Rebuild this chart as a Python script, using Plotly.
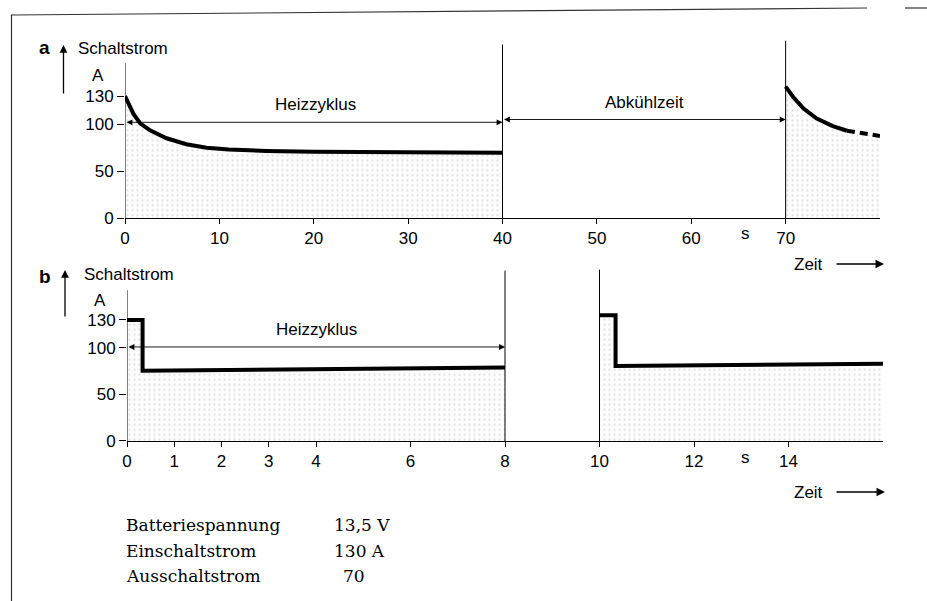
import plotly.graph_objects as go

W, H = 927, 601

# ---------------- data: panel a (Heizzyklus / Abkühlzeit, 0..80 s) ----------------
a_xticks = [0, 10, 20, 30, 40, 50, 60, 70]
a_yticks = [0, 50, 100, 130]
a_t1 = [0, 0.35, 0.9, 1.6, 2.65, 4.4, 6.5, 8.65, 11, 15, 20, 30, 40]
a_i1 = [130, 122, 111, 101, 93.5, 85, 78.7, 75, 73, 71.5, 70.5, 70, 69.5]
a_t2 = [70, 70.8, 71.9, 73.3, 75, 76.5]
a_i2 = [140, 129, 116.7, 106, 98, 93]
a_t2_dash = [76.5, 78.2, 80]
a_i2_dash = [93, 90, 87.5]
a_marks = [40, 70]
a_marks_top = [185, 189]

# ---------------- data: panel b (0..16 s) ----------------
b_xticks = [0, 1, 2, 3, 4, 6, 8, 10, 12, 14]
b_yticks = [0, 50, 100, 130]
b_t1 = [0, 0.33, 0.33, 8]
b_i1 = [130, 130, 75.5, 79]
b_t2 = [10, 10.34, 10.34, 16]
b_i2 = [135, 135, 80.5, 83]
b_marks = [8, 10]
b_marks_top = [183, 184]

table_labels = ["Batteriespannung", "Einschaltstrom", "Ausschaltstrom"]
table_values = ["13,5 V", "130 A", "70"]

SANS = "Liberation Sans, Arial, sans-serif"
SERIF = "DejaVu Serif, Liberation Serif, serif"
FS = 17


def px(x):
    return x / W


def py(y):
    return 1 - y / H


pattern = dict(shape=".", size=5, solidity=0.16, fgcolor="#c8c8c8", bgcolor="#fdfdfd")

fig = go.Figure()


def fill_trace(t, v, xa, ya):
    fig.add_trace(go.Scatter(x=t, y=v, xaxis=xa, yaxis=ya, mode="lines",
                             line=dict(width=0, color="rgba(0,0,0,0)"),
                             fill="tozeroy", fillpattern=pattern,
                             hoverinfo="skip"))


def line_trace(t, v, xa, ya, dash="solid"):
    fig.add_trace(go.Scatter(x=t, y=v, xaxis=xa, yaxis=ya, mode="lines",
                             line=dict(width=4, color="black", dash=dash)))


fill_trace(a_t1, a_i1, "x", "y")
fill_trace(a_t2 + a_t2_dash[1:], a_i2 + a_i2_dash[1:], "x", "y")
line_trace(a_t1, a_i1, "x", "y")
line_trace(a_t2, a_i2, "x", "y")
line_trace(a_t2_dash, a_i2_dash, "x", "y", dash="8px,5px")

fill_trace(b_t1, b_i1, "x2", "y2")
fill_trace(b_t2, b_i2, "x2", "y2")
line_trace(b_t1, b_i1, "x2", "y2")
line_trace(b_t2, b_i2, "x2", "y2")

axis_common = dict(showgrid=False, zeroline=False, ticks="outside", tickcolor="black",
                   automargin=False,
                   tickfont=dict(family=SANS, size=FS, color="black"), fixedrange=True)

fig.update_layout(
    width=W, height=H, margin=dict(l=0, r=0, t=0, b=0, pad=0, autoexpand=False),
    paper_bgcolor="white", plot_bgcolor="white", showlegend=False,
    xaxis=dict(domain=[px(125), px(880)], range=[0, 80], tickvals=a_xticks,
               ticklen=5, showline=True, linecolor="black", linewidth=1,
               anchor="y", **axis_common),
    yaxis=dict(domain=[py(218), py(218 - 192 * 0.938)], range=[0, 192],
               tickvals=a_yticks, ticklen=7, showline=False, anchor="x",
               **axis_common),
    xaxis2=dict(domain=[px(127), px(883)], range=[0, 16], tickvals=b_xticks,
                ticklen=5, showline=True, linecolor="black", linewidth=1,
                anchor="y2", **axis_common),
    yaxis2=dict(domain=[py(441), py(441 - 192 * 0.931)], range=[0, 192],
                tickvals=b_yticks, ticklen=7, showline=False, anchor="x2",
                **axis_common),
)

shapes = []
# y axis lines (shorter than the plotting range)
shapes.append(dict(type="line", xref="x", yref="y", x0=0, x1=0, y0=0, y1=165,
                   line=dict(color="black", width=1)))
shapes.append(dict(type="line", xref="x2", yref="y2", x0=0, x1=0, y0=0, y1=162,
                   line=dict(color="black", width=1)))
for xv, top in zip(a_marks, a_marks_top):
    shapes.append(dict(type="line", xref="x", yref="y", x0=xv, x1=xv, y0=0, y1=top,
                       line=dict(color="black", width=1)))
for xv, top in zip(b_marks, b_marks_top):
    shapes.append(dict(type="line", xref="x2", yref="y2", x0=xv, x1=xv, y0=0, y1=top,
                       line=dict(color="black", width=1)))
# page frame
shapes.append(dict(type="line", xref="paper", yref="paper", x0=px(11.5), x1=px(11.5),
                   y0=py(15), y1=py(601), line=dict(color="#333", width=1.2)))
shapes.append(dict(type="line", xref="paper", yref="paper", x0=px(11), x1=px(867),
                   y0=py(15), y1=py(8), line=dict(color="#333", width=1.2)))
shapes.append(dict(type="line", xref="paper", yref="paper", x0=px(905), x1=px(927),
                   y0=py(8), y1=py(8), line=dict(color="#333", width=1.2)))
fig.update_layout(shapes=shapes)

ann = []


def text(x, y, s, size=FS, family=SANS, xanchor="center", bold=False):
    ann.append(dict(x=px(x), y=py(y), xref="paper", yref="paper", text=f"<b>{s}</b>" if bold else s,
                    showarrow=False, xanchor=xanchor, yanchor="middle",
                    font=dict(family=family, size=size, color="black")))


def data_arrow(x0, x1, yv, xr, yr):
    ann.append(dict(x=x1, y=yv, ax=x0, ay=yv, xref=xr, yref=yr, axref=xr, ayref=yr,
                    text="", showarrow=True, arrowhead=2, startarrowhead=2,
                    arrowside="end+start", arrowsize=1.3, startarrowsize=1.3,
                    arrowwidth=0.9, arrowcolor="black", standoff=0, startstandoff=0))


def paper_arrow(x, y, ax, ay, size=1.2, width=1.3):
    ann.append(dict(x=px(x), y=py(y), xref="paper", yref="paper", ax=ax, ay=ay,
                    text="", showarrow=True, arrowhead=2, arrowsize=size,
                    arrowwidth=width, arrowcolor="black", standoff=0))


# panel a labels
text(44, 47, "a", size=19, bold=True)
paper_arrow(63.5, 45, 0, 50)
text(76, 48, "Schaltstrom", xanchor="left")
text(98, 75, "A")
text(745, 233, "s")
text(808, 264, "Zeit")
paper_arrow(884, 264, -49, 0, size=1.3, width=1.3)
data_arrow(0, 40, 102, "x", "y")
data_arrow(40, 70, 105, "x", "y")
ann.append(dict(x=20.2, y=121, xref="x", yref="y", text="Heizzyklus", showarrow=False,
                font=dict(family=SANS, size=FS, color="black")))
ann.append(dict(x=55.0, y=123.5, xref="x", yref="y", text="Abkühlzeit", showarrow=False,
                font=dict(family=SANS, size=FS, color="black")))

# panel b labels
text(45, 276, "b", size=19, bold=True)
paper_arrow(65, 270, 0, 48)
text(82, 274, "Schaltstrom", xanchor="left")
text(100, 300, "A")
text(745, 457, "s")
text(808, 492, "Zeit")
paper_arrow(885, 492, -50, 0, size=1.3, width=1.3)
data_arrow(0, 8, 101, "x2", "y2")
ann.append(dict(x=4.0, y=120, xref="x2", yref="y2", text="Heizzyklus", showarrow=False,
                font=dict(family=SANS, size=FS, color="black")))

# parameter table
for i, (lab, val) in enumerate(zip(table_labels, table_values)):
    yy = 525 + i * 25.5
    text(124, yy, lab, size=17, family=SERIF, xanchor="left")
    text(332 if i < 2 else 341, yy, val, size=17, family=SERIF, xanchor="left")

fig.update_layout(annotations=ann)

fig.write_html("out.html", config={"displayModeBar": False},
               post_script="document.body.style.margin='0px';document.body.style.overflow='hidden';")
